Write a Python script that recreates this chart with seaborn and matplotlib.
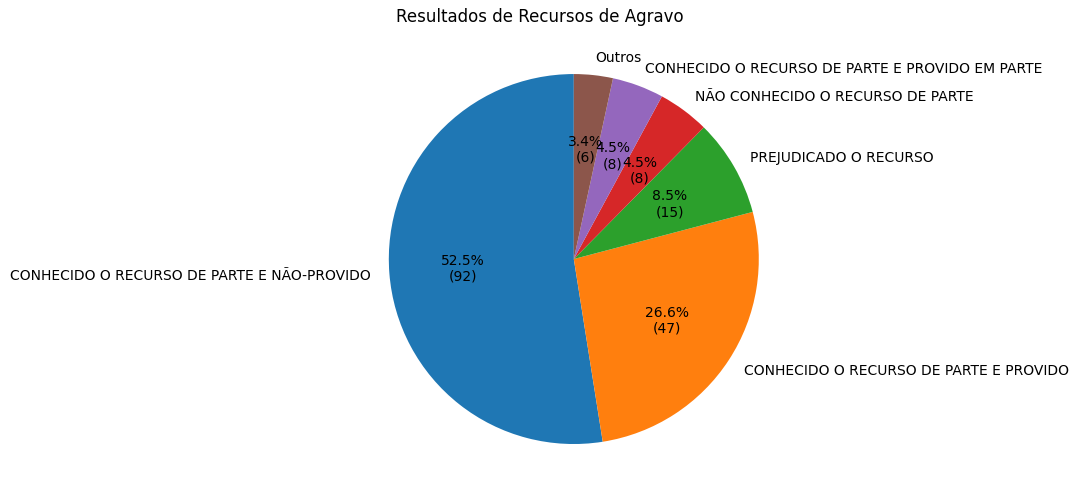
import matplotlib.pyplot as plt
import seaborn as sns

labels = ['CONHECIDO O RECURSO DE PARTE E NÃO-PROVIDO',
          'CONHECIDO O RECURSO DE PARTE E PROVIDO',
          'PREJUDICADO O RECURSO',
          'NÃO CONHECIDO O RECURSO DE PARTE',
          'CONHECIDO O RECURSO DE PARTE E PROVIDO EM PARTE',
          'Outros']
percents = [52.5, 26.6, 8.5, 4.5, 4.5, 3.4]
counts = [92, 47, 15, 8, 8, 6]

colors = sns.color_palette('tab10', len(labels))

fig = plt.figure(figsize=(10.8, 5.02), dpi=100)
ax = fig.add_axes([0.360, 0.1135, 0.3426, 0.737])
it = iter(counts)
ax.pie(percents, labels=labels, colors=colors, startangle=90,
       autopct=lambda p: f'{p:.1f}%\n({next(it)})')
ax.set_xlim(-1, 1)
ax.set_ylim(-1, 1)
ax.set_aspect('equal')
fig.suptitle('Resultados de Recursos de Agravo', y=0.966, va='center', fontsize=12)
fig.savefig('out.png', dpi=100)
